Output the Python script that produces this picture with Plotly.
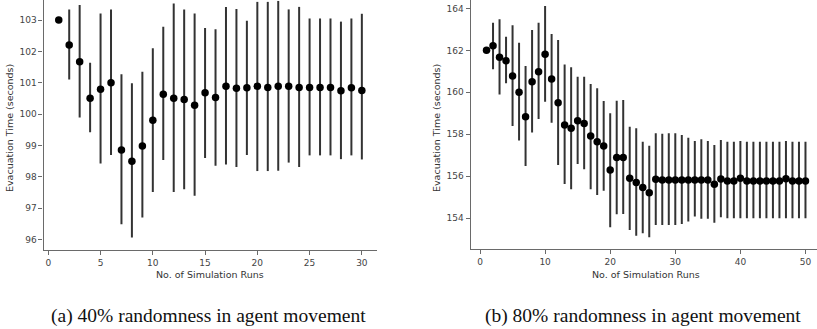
import plotly.graph_objects as go

# ---- (a) 40% randomness ----
runs_a = list(range(1, 31))
mean_a = [103.0, 102.2, 101.67, 100.5, 100.79, 101.0, 98.85, 98.49, 98.98, 99.8,
          100.63, 100.5, 100.46, 100.28, 100.68, 100.53, 100.89, 100.82, 100.84, 100.89,
          100.85, 100.89, 100.89, 100.85, 100.85, 100.85, 100.85, 100.74, 100.84, 100.75]
upper_a = [103.0, 103.34, 103.48, 101.64, 103.21, 103.34, 101.27, 100.98, 101.35, 102.1,
           102.79, 103.53, 103.34, 103.21, 102.75, 102.71, 103.42, 103.35, 102.98, 103.58,
           103.58, 103.61, 103.34, 103.42, 103.05, 103.05, 103.05, 102.95, 103.05, 103.2]
lower_a = [103.0, 101.1, 99.89, 99.42, 98.42, 98.69, 96.48, 96.06, 96.7, 97.51,
           98.53, 97.51, 97.6, 97.39, 98.6, 98.35, 98.39, 98.31, 98.69, 98.18,
           98.18, 98.19, 98.45, 98.31, 98.68, 98.68, 98.68, 98.56, 98.68, 98.55]

# ---- (b) 80% randomness ----
runs_b = list(range(1, 51))
mean_b = [162.01, 162.22, 161.67, 161.5, 160.78, 160.0, 158.84, 160.5, 160.98, 161.81,
          160.63, 159.5, 158.44, 158.29, 158.65, 158.52, 157.92, 157.65, 157.44, 156.3,
          156.89, 156.89, 155.9, 155.7, 155.46, 155.22, 155.86, 155.82, 155.82, 155.82,
          155.82, 155.82, 155.82, 155.82, 155.82, 155.62, 155.87, 155.78, 155.78, 155.9,
          155.78, 155.78, 155.78, 155.78, 155.78, 155.78, 155.88, 155.78, 155.78, 155.78]
upper_b = [162.01, 163.31, 163.48, 162.65, 163.2, 162.36, 161.25, 162.97, 163.31, 164.12,
           162.78, 162.49, 161.33, 161.19, 160.74, 160.74, 160.4, 160.19, 159.59, 159.0,
           159.6, 159.63, 158.36, 158.29, 157.65, 157.46, 158.05, 158.03, 158.05, 158.05,
           157.97, 157.84, 157.68, 157.76, 157.68, 157.49, 157.73, 157.65, 157.65, 157.68,
           157.65, 157.65, 157.65, 157.65, 157.65, 157.65, 157.68, 157.65, 157.65, 157.65]
lower_b = [162.01, 161.1, 159.9, 160.43, 158.4, 157.7, 156.49, 158.08, 158.73, 159.55,
           158.55, 156.54, 155.63, 155.38, 156.59, 156.33, 155.38, 155.11, 155.31, 153.57,
           154.19, 154.2, 153.44, 153.16, 153.29, 153.1, 153.68, 153.68, 153.68, 153.68,
           153.73, 153.84, 154.08, 153.97, 153.97, 153.79, 154.05, 154.0, 154.0, 154.0,
           154.0, 154.0, 154.0, 154.0, 154.0, 154.0, 154.0, 154.0, 154.0, 154.0]

ticks_xa = [0, 5, 10, 15, 20, 25, 30]
ticks_ya = [96, 97, 98, 99, 100, 101, 102, 103]
ticks_xb = [0, 10, 20, 30, 40, 50]
ticks_yb = [154, 156, 158, 160, 162, 164]

x_title = "No. of Simulation Runs"
y_title = "Evacuation Time (seconds)"
caption_a = "(a) 40% randomness in agent movement"
caption_b = "(b) 80% randomness in agent movement"

W, H = 817, 329
BAR = "#333333"
SPINE = "#6a6a6a"
TICKF = dict(family="DejaVu Sans", size=9, color="#444444")


def trace(x, m, up, lo, xa, ya):
    return go.Scatter(
        x=x, y=m, mode="markers", xaxis=xa, yaxis=ya,
        marker=dict(color="black", size=7.5),
        error_y=dict(type="data", symmetric=False,
                     array=[u - v for u, v in zip(up, m)],
                     arrayminus=[v - l for v, l in zip(m, lo)],
                     color=BAR, thickness=2, width=0),
        showlegend=False, cliponaxis=False,
    )


fig = go.Figure()
fig.add_trace(trace(runs_a, mean_a, upper_a, lower_a, "x", "y"))
fig.add_trace(trace(runs_b, mean_b, upper_b, lower_b, "x2", "y2"))

ax_common = dict(showline=True, linecolor=SPINE, linewidth=1.3, ticks="outside",
                 ticklen=4, tickwidth=1, tickcolor=SPINE, tickfont=TICKF,
                 showgrid=False, zeroline=False, mirror=False)

fig.update_layout(
    width=W, height=H, margin=dict(l=0, r=0, t=0, b=0),
    paper_bgcolor="white", plot_bgcolor="white",
    xaxis=dict(domain=[43.6 / W, 377 / W], range=[-0.45, 31.45], tickvals=ticks_xa,
               anchor="y", **ax_common),
    yaxis=dict(domain=[1 - 250 / H, 1], range=[95.66, 103.64], tickvals=ticks_ya,
               anchor="x", **ax_common),
    xaxis2=dict(domain=[470.7 / W, 1], range=[-1.43, 51.77], tickvals=ticks_xb,
                anchor="y2", **ax_common),
    yaxis2=dict(domain=[1 - 249.3 / H, 1], range=[152.52, 164.4], tickvals=ticks_yb,
                anchor="x2", **ax_common),
)

TF = dict(family="DejaVu Sans", size=9.5, color="#333333")
CF = dict(family="Liberation Serif", size=19.5, color="#111111")
ann = [
    dict(x=210 / W, y=1 - 274 / H, text=x_title, font=TF),
    dict(x=646 / W, y=1 - 274 / H, text=x_title, font=TF),
    dict(x=9 / W, y=1 - 128 / H, text=y_title, font=TF, textangle=-90),
    dict(x=436 / W, y=1 - 128 / H, text=y_title, font=TF, textangle=-90),
    dict(x=208 / W, y=1 - 316 / H, text=caption_a, font=CF),
    dict(x=643 / W, y=1 - 316 / H, text=caption_b, font=CF),
]
for a in ann:
    a.update(xref="paper", yref="paper", showarrow=False, xanchor="center", yanchor="middle")
fig.update_layout(annotations=ann)

fig.write_html("out.html", config={"displayModeBar": False},
               post_script="document.body.style.margin='0';document.body.style.overflow='hidden';")
